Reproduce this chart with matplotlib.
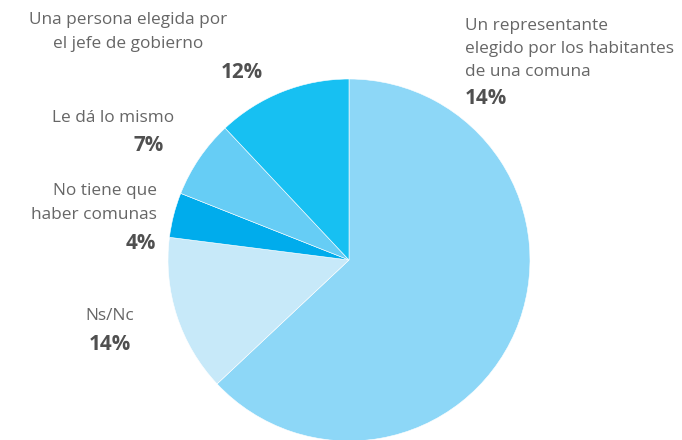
import matplotlib.pyplot as plt

# Slices, clockwise from 12 o'clock
values = [63, 14, 4, 7, 12]
colors = ['#8dd7f7', '#c7e9f9', '#00acec', '#66cdf5', '#17c0f2']

# Labels as printed on the chart
labels = ['Un representante\nelegido por los habitantes\nde una comuna',
          'Ns/Nc',
          'No tiene que\nhaber comunas',
          'Le dá lo mismo',
          'Una persona elegida por\nel jefe de gobierno']
pct_text = ['14%', '14%', '4%', '7%', '12%']

W, H = 682, 440
fig = plt.figure(figsize=(W / 100, H / 100), dpi=100)
plt.rcParams['font.family'] = ['Open Sans', 'DejaVu Sans']

# pie centred at (349, 260) px with radius 181 px
cx, cy, r = 349, 260, 181
ax = fig.add_axes([(cx - r) / W, (H - cy - r) / H, 2 * r / W, 2 * r / H])
ax.pie(values, colors=colors, startangle=90, counterclock=False, radius=1,
       wedgeprops=dict(edgecolor='white', linewidth=0.4))
ax.set_xlim(-1, 1)
ax.set_ylim(-1, 1)
ax.set_aspect('equal')
ax.axis('off')

lab_color = '#666666'
pct_color = '#505050'
fs = 12.4


def px(x, y):
    return x / W, 1 - y / H


# label anchor points (px) and alignment per slice
label_pos = [(465, 49, 'left', 'left'),
             (110, 316, 'center', 'center'),
             (157, 203, 'right', 'right'),
             (174, 118, 'right', 'right'),
             (128, 32, 'center', 'center')]
pct_pos = [(465, 98, 'left'),
           (110, 345, 'center'),
           (156, 243, 'right'),
           (164, 145, 'right'),
           (263, 73, 'right')]

for lab, (x, y, ha, ma), pct, (px_, py_, pha) in zip(labels, label_pos, pct_text, pct_pos):
    fig.text(*px(x, y), lab, ha=ha, va='center', multialignment=ma,
             fontsize=fs, color=lab_color, linespacing=1.6)
    fig.text(*px(px_, py_), pct, ha=pha, va='center',
             fontsize=fs + 2.5, color=pct_color, fontweight='bold')

fig.savefig('out.png', dpi=100)
